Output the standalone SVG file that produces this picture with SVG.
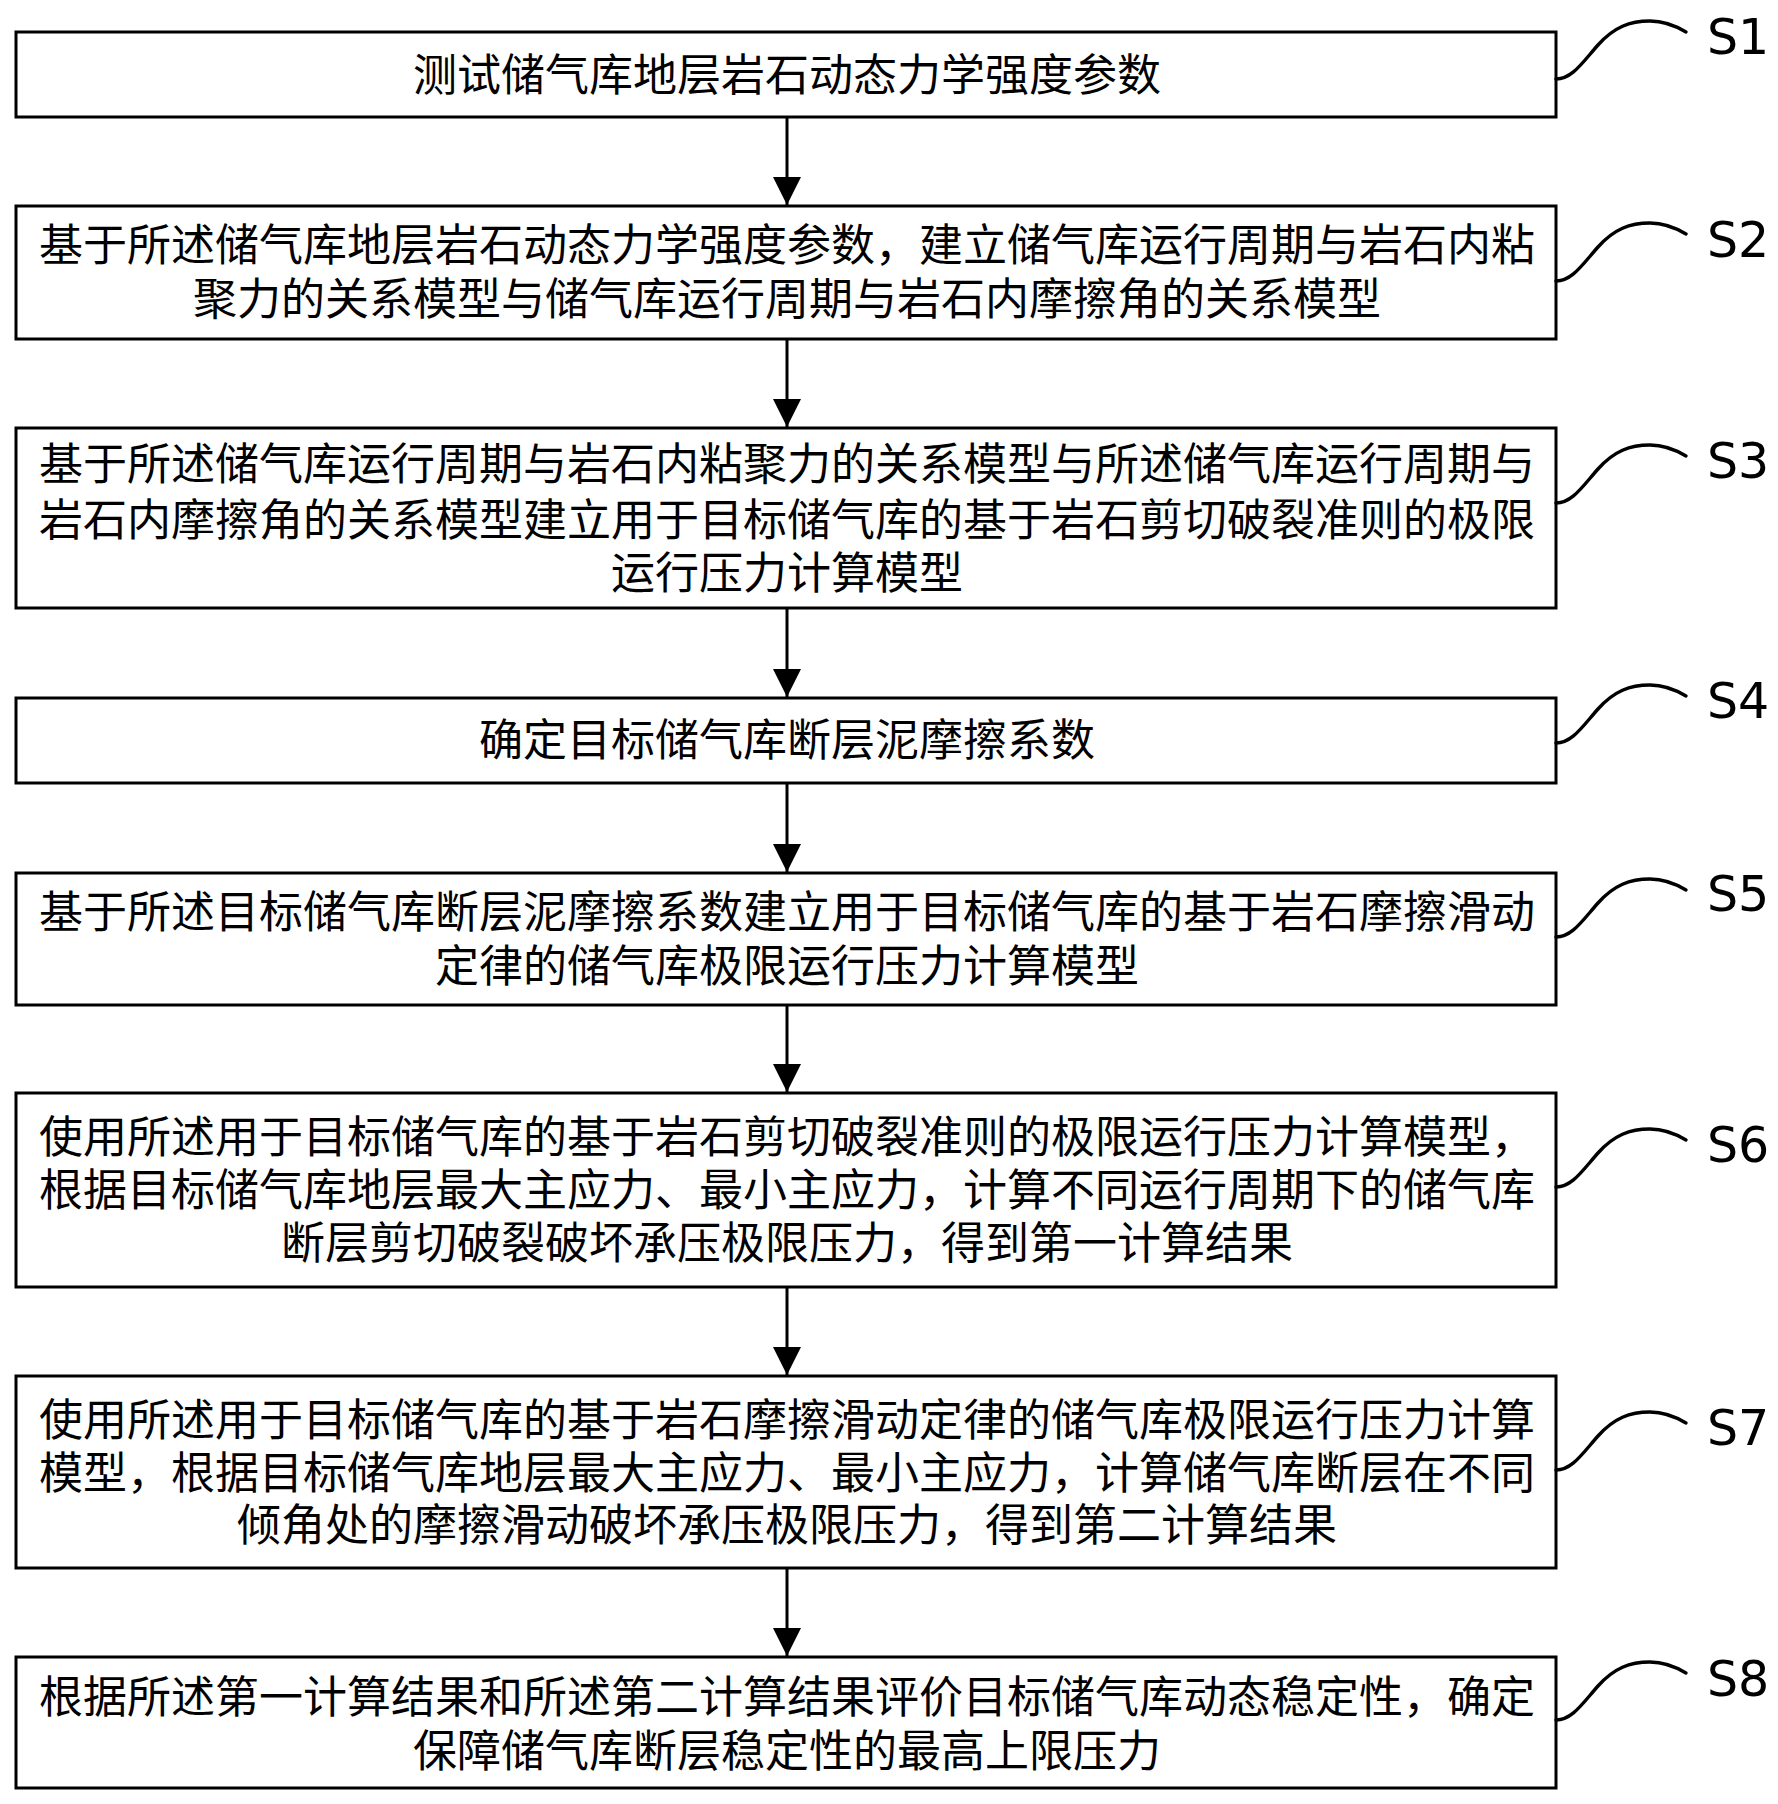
<svg xmlns="http://www.w3.org/2000/svg" width="1778" height="1804" viewBox="0 0 1778 1804">
<style>
.box{fill:#fff;stroke:#000;stroke-width:3}
.t{font-family:"Noto Sans CJK SC","Noto Sans CJK JP",sans-serif;font-size:44px;fill:#000;text-anchor:middle}
.lbl{font-family:"DejaVu Sans",sans-serif;font-size:49px;fill:#000}
.lead{fill:none;stroke:#000;stroke-width:3.4;stroke-linecap:round}
.conn{stroke:#000;stroke-width:3;fill:none}
</style>
<defs>
<marker id="ah" markerUnits="userSpaceOnUse" markerWidth="28" markerHeight="28" viewBox="0 0 28 28" refX="28" refY="14" orient="auto">
<path d="M0,0 L28,14 L0,28 Z" fill="#000"/>
</marker>
</defs>
<rect width="1778" height="1804" fill="#fff"/>
<g id="connectors">
<line class="conn" x1="787" y1="118" x2="787" y2="205" marker-end="url(#ah)"/>
<line class="conn" x1="787" y1="340" x2="787" y2="427" marker-end="url(#ah)"/>
<line class="conn" x1="787" y1="609" x2="787" y2="697" marker-end="url(#ah)"/>
<line class="conn" x1="787" y1="784" x2="787" y2="872" marker-end="url(#ah)"/>
<line class="conn" x1="787" y1="1006" x2="787" y2="1092" marker-end="url(#ah)"/>
<line class="conn" x1="787" y1="1288" x2="787" y2="1375" marker-end="url(#ah)"/>
<line class="conn" x1="787" y1="1569" x2="787" y2="1656" marker-end="url(#ah)"/>
</g>
<g id="S1">
<rect class="box" x="16" y="32" width="1540" height="85"/>
<text class="t" x="787" y="91">测试储气库地层岩石动态力学强度参数</text>
<path class="lead" d="M1556,79 C1572,79 1582,63 1598,45 C1614,27 1630,21 1650,21 C1664,21 1676,26 1686,32"/>
<text class="lbl" x="1707" y="54">S1</text>
</g>
<g id="S2">
<rect class="box" x="16" y="206" width="1540" height="133"/>
<text class="t" x="787" y="261">基于所述储气库地层岩石动态力学强度参数，建立储气库运行周期与岩石内粘</text>
<text class="t" x="787" y="315">聚力的关系模型与储气库运行周期与岩石内摩擦角的关系模型</text>
<path class="lead" d="M1556,281 C1572,281 1582,265 1598,247 C1614,229 1630,223 1650,223 C1664,223 1676,228 1686,234"/>
<text class="lbl" x="1707" y="257">S2</text>
</g>
<g id="S3">
<rect class="box" x="16" y="428" width="1540" height="180"/>
<text class="t" x="787" y="480">基于所述储气库运行周期与岩石内粘聚力的关系模型与所述储气库运行周期与</text>
<text class="t" x="787" y="536">岩石内摩擦角的关系模型建立用于目标储气库的基于岩石剪切破裂准则的极限</text>
<text class="t" x="787" y="589">运行压力计算模型</text>
<path class="lead" d="M1556,503 C1572,503 1582,487 1598,469 C1614,451 1630,445 1650,445 C1664,445 1676,450 1686,456"/>
<text class="lbl" x="1707" y="478">S3</text>
</g>
<g id="S4">
<rect class="box" x="16" y="698" width="1540" height="85"/>
<text class="t" x="787" y="756">确定目标储气库断层泥摩擦系数</text>
<path class="lead" d="M1556,743 C1572,743 1582,727 1598,709 C1614,691 1630,685 1650,685 C1664,685 1676,690 1686,696"/>
<text class="lbl" x="1707" y="718">S4</text>
</g>
<g id="S5">
<rect class="box" x="16" y="873" width="1540" height="132"/>
<text class="t" x="787" y="928">基于所述目标储气库断层泥摩擦系数建立用于目标储气库的基于岩石摩擦滑动</text>
<text class="t" x="787" y="982">定律的储气库极限运行压力计算模型</text>
<path class="lead" d="M1556,937 C1572,937 1582,921 1598,903 C1614,885 1630,879 1650,879 C1664,879 1676,884 1686,890"/>
<text class="lbl" x="1707" y="911">S5</text>
</g>
<g id="S6">
<rect class="box" x="16" y="1093" width="1540" height="194"/>
<text class="t" x="787" y="1153">使用所述用于目标储气库的基于岩石剪切破裂准则的极限运行压力计算模型，</text>
<text class="t" x="787" y="1206">根据目标储气库地层最大主应力、最小主应力，计算不同运行周期下的储气库</text>
<text class="t" x="787" y="1259">断层剪切破裂破坏承压极限压力，得到第一计算结果</text>
<path class="lead" d="M1556,1187 C1572,1187 1582,1171 1598,1153 C1614,1135 1630,1129 1650,1129 C1664,1129 1676,1134 1686,1140"/>
<text class="lbl" x="1707" y="1162">S6</text>
</g>
<g id="S7">
<rect class="box" x="16" y="1376" width="1540" height="192"/>
<text class="t" x="787" y="1436">使用所述用于目标储气库的基于岩石摩擦滑动定律的储气库极限运行压力计算</text>
<text class="t" x="787" y="1489">模型，根据目标储气库地层最大主应力、最小主应力，计算储气库断层在不同</text>
<text class="t" x="787" y="1541">倾角处的摩擦滑动破坏承压极限压力，得到第二计算结果</text>
<path class="lead" d="M1556,1470 C1572,1470 1582,1454 1598,1436 C1614,1418 1630,1412 1650,1412 C1664,1412 1676,1417 1686,1423"/>
<text class="lbl" x="1707" y="1445">S7</text>
</g>
<g id="S8">
<rect class="box" x="16" y="1657" width="1540" height="131"/>
<text class="t" x="787" y="1713">根据所述第一计算结果和所述第二计算结果评价目标储气库动态稳定性，确定</text>
<text class="t" x="787" y="1767">保障储气库断层稳定性的最高上限压力</text>
<path class="lead" d="M1556,1720 C1572,1720 1582,1704 1598,1686 C1614,1668 1630,1662 1650,1662 C1664,1662 1676,1667 1686,1673"/>
<text class="lbl" x="1707" y="1696">S8</text>
</g>
</svg>
